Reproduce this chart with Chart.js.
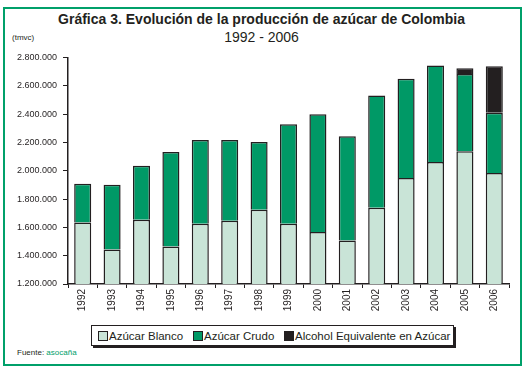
<!DOCTYPE html>
<html lang="es">
<head>
<meta charset="UTF-8">
<title>Producción de azúcar de Colombia</title>
<script src="https://cdn.jsdelivr.net/npm/chart.js"></script>
<style>
    body { margin: 0; width: 523px; height: 372px; background: #fff; font-family: "Liberation Sans", Arial, sans-serif; position: relative; overflow: hidden; }
    #frame { position: absolute; left: 3px; top: 7px; width: 515px; height: 355px; border: 2px solid #00a06a; }
    #title { position: absolute; left: 0; width: 523px; top: 11px; text-align: center; font-size: 14px; font-weight: bold; color: #231f20; }
    #subtitle { position: absolute; left: 0; width: 523px; top: 29px; text-align: center; font-size: 14px; color: #231f20; }
    #unit { position: absolute; left: 12px; top: 33px; font-size: 8px; color: #231f20; }
    #chartBox { position: absolute; left: 0; top: 46px; }
    #legend { position: absolute; left: 91px; top: 325px; width: 361px; height: 19px; border: 1px solid #231f20; box-shadow: 2px 2px 0 #231f20; background: #fff; }
    .item { position: absolute; top: 3px; font-size: 11.5px; color: #231f20; white-space: nowrap; line-height: 14px; }
    .swatch { display: inline-block; width: 8px; height: 8px; border: 1px solid #231f20; vertical-align: -1px; margin-right: 1px; }
    #source { position: absolute; left: 17px; top: 348px; font-size: 8px; color: #231f20; }
    #source span { color: #00a06a; }
</style>
</head>
<body>
<div id="frame"></div>
<div id="title">Gráfica 3. Evolución de la producción de azúcar de Colombia</div>
<div id="subtitle">1992 - 2006</div>
<div id="unit">(tmvc)</div>
<div id="chartBox"><canvas id="sugarChart" width="523" height="268"></canvas></div>
<div id="legend"></div>
<div id="source">Fuente: <span>asocaña</span></div>

<script>
    const years = ['1992', '1993', '1994', '1995', '1996', '1997', '1998', '1999',
                   '2000', '2001', '2002', '2003', '2004', '2005', '2006'];

    // toneladas métricas valor crudo (tmvc)
    const azucarBlanco = [1635000, 1444000, 1654000, 1465000, 1626000, 1647000, 1724000, 1626000,
                          1567000, 1507000, 1738000, 1949000, 2061000, 2138000, 1984000];
    const azucarCrudo  = [272000, 456000, 381000, 667000, 590000, 569000, 478000, 702000,
                          831000, 736000, 793000, 701000, 681000, 545000, 425000];
    // no alcohol before 2005
    const alcoholEquiv = [null, null, null, null, null, null, null, null,
                          null, null, null, null, null, 40000, 328000];

    const seriesNames = ['Azúcar Blanco', 'Azúcar Crudo', 'Alcohol Equivalente en Azúcar'];
    const seriesColors = ['#c9e4d7', '#009966', '#231f20'];
    const legendX = [6, 101, 192]; // item offsets inside the legend box

    const yMin = 1200000, yMax = 2800000, yStep = 200000;

    function fmt(v) {
        return String(v).replace(/\B(?=(\d{3})+(?!\d))/g, '.');
    }

    const ink = '#231f20';
    const seriesData = [azucarBlanco, azucarCrudo, alcoholEquiv];

    new Chart(document.getElementById('sugarChart'), {
        type: 'bar',
        data: {
            labels: years,
            datasets: seriesNames.map((name, i) => ({
                label: name,
                data: seriesData[i],
                backgroundColor: seriesColors[i],
                borderColor: ink,
                borderWidth: 1.5,
                // upper segments share the edge of the one below
                borderSkipped: i === 0 ? false : 'bottom',
                categoryPercentage: 1,
                barPercentage: 0.58
            }))
        },
        options: {
            responsive: false,
            devicePixelRatio: 1,
            animation: false,
            layout: { padding: { top: 10, right: 14, left: 0, bottom: 0 } },
            plugins: {
                legend: { display: false },
                tooltip: { enabled: false }
            },
            scales: {
                x: {
                    stacked: true,
                    afterFit: s => { s.height = 30; },
                    grid: { offset: true, drawOnChartArea: false, drawTicks: true, tickLength: 4, color: ink, lineWidth: 1 },
                    border: { display: true, color: ink, width: 1.5 },
                    ticks: { minRotation: 90, maxRotation: 90, padding: 1, color: ink, font: { family: 'Liberation Sans', size: 10 } }
                },
                y: {
                    stacked: true,
                    min: yMin,
                    max: yMax,
                    afterFit: s => { s.width = 68; },
                    grid: { drawOnChartArea: false, drawTicks: true, tickLength: 5, color: ink, lineWidth: 1 },
                    border: { display: true, color: ink, width: 1.5 },
                    ticks: { stepSize: yStep, padding: 6, color: ink, font: { family: 'Liberation Sans', size: 9 }, callback: v => fmt(v) }
                }
            }
        }
    });

    // legend as html, built from the series
    const legend = document.getElementById('legend');
    seriesNames.forEach((name, i) => {
        const item = document.createElement('div');
        item.className = 'item';
        item.style.left = legendX[i] + 'px';
        const sw = document.createElement('span');
        sw.className = 'swatch';
        sw.style.background = seriesColors[i];
        item.appendChild(sw);
        item.appendChild(document.createTextNode(name));
        legend.appendChild(item);
    });
</script>
</body>
</html>
